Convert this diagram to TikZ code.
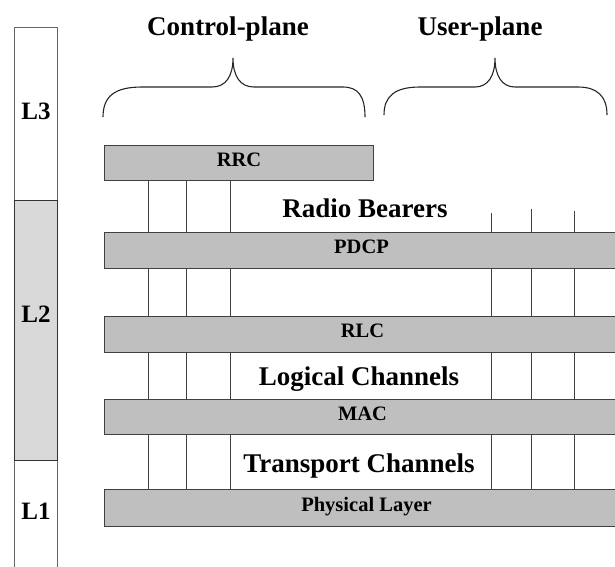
\documentclass[tikz,border=0pt]{standalone}
\usepackage{fontspec}
\setmainfont{Liberation Serif}
\begin{document}
\begin{tikzpicture}[x=1pt,y=-1pt,
  layerbox/.style={draw=black!75, fill=black!25, line width=1pt, inner sep=0pt,
    anchor=north west, minimum height=35pt, text height=0.66em, text depth=0pt,
    font=\bfseries\fontsize{20.5}{20.5}\selectfont},
  colbox/.style={draw=black!60, line width=1pt, inner sep=0pt, anchor=north west,
    minimum width=43pt},
  lvl/.style={inner sep=0pt, text height=0.66em, text depth=0pt,
    font=\bfseries\fontsize{25}{25}\selectfont},
  biglabel/.style={inner sep=0pt, anchor=base,
    font=\bfseries\fontsize{27}{27}\selectfont},
  chan/.style={draw=black!75, line width=0.8pt},
  brace/.style={draw=black!85, line width=1.1pt}]
\useasboundingbox (0,0) rectangle (615,566);

% protocol level column
\node[colbox, minimum height=173pt] (l3) at (14,27) {};
\node[colbox, minimum height=125pt] (l1) at (14,460) {};
\node[colbox, minimum height=260pt, fill=black!15, draw=black!80, line width=1.2pt] (l2) at (14,200) {};
\node[lvl] (l3lab) at (36,116) {L3};
\node[lvl] (l2lab) at (36,319) {L2};
\node[lvl] (l1lab) at (36,516) {L1};

% plane headings and braces
\node[biglabel] (cplane) at (228,35) {Control-plane};
\node[biglabel] (uplane) at (480,35) {User-plane};
\draw[brace] (103,117) .. controls (103,96) and (115,87) .. (142,87)
  -- (212,87) .. controls (226,87) and (233,76) .. (233,58)
  .. controls (233,76) and (240,87) .. (254,87)
  -- (343,87) .. controls (358,87) and (365,96) .. (365,117);
\draw[brace] (384,115) .. controls (384,96) and (395,87) .. (420,87)
  -- (475,87) .. controls (488,87) and (495,76) .. (495,58)
  .. controls (495,76) and (502,87) .. (515,87)
  -- (578,87) .. controls (597,87) and (607,96) .. (607,115);

% protocol layers
\node[layerbox, minimum width=269pt] (rrc) at (104,145) {RRC};
\node[layerbox, minimum width=520pt, minimum height=36pt] (pdcp) at (104,232) {\hspace*{-6pt}PDCP};
\node[layerbox, minimum width=520pt, minimum height=36pt] (rlc) at (104,316) {\hspace*{-4pt}RLC};
\node[layerbox, minimum width=520pt] (mac) at (104,399) {\hspace*{-4pt}MAC};
\node[layerbox, minimum width=520pt, minimum height=37pt] (phy) at (104,489) {\hspace*{4pt}Physical Layer};

% channel labels
\node[biglabel] (rb) at (365,217) {Radio Bearers};
\node[biglabel] (lc) at (359,385) {Logical Channels};
\node[biglabel] (tc) at (359,472) {Transport Channels};

% channel line positions
\coordinate (c1) at (148,0);
\coordinate (c2) at (186,0);
\coordinate (c3) at (230,0);
\coordinate (u1) at (491,213);
\coordinate (u2) at (531,209);
\coordinate (u3) at (574,211);

% control-plane channels
\foreach \c in {c1,c2,c3} {
  \draw[chan] (rrc.south -| \c) -- (pdcp.north -| \c);
  \draw[chan] (pdcp.south -| \c) -- (rlc.north -| \c);
  \draw[chan] (rlc.south -| \c) -- (mac.north -| \c);
  \draw[chan] (mac.south -| \c) -- (phy.north -| \c);
}
% user-plane channels
\foreach \c in {u1,u2,u3} {
  \draw[chan] (\c) -- (pdcp.north -| \c);
  \draw[chan] (pdcp.south -| \c) -- (rlc.north -| \c);
  \draw[chan] (rlc.south -| \c) -- (mac.north -| \c);
  \draw[chan] (mac.south -| \c) -- (phy.north -| \c);
}
\end{tikzpicture}
\end{document}
